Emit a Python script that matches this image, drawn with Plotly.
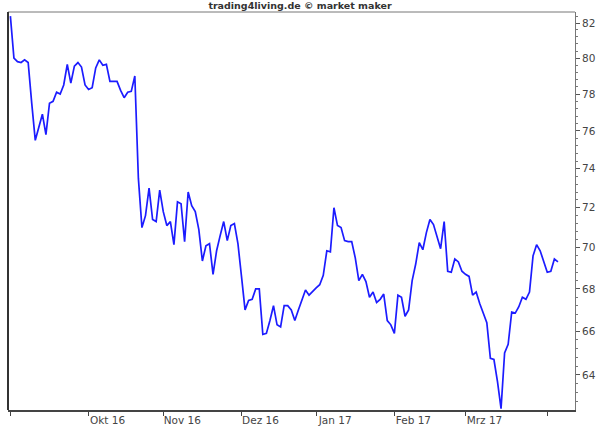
import math
import plotly.graph_objects as go

# Closing prices, one per trading day from 1 Sep 2016 (index 0)
values = [
    82.4, 80.0, 79.8, 79.75, 79.9, 79.75, 77.5, 75.5, 76.2, 76.9,
    75.8, 77.5, 77.6, 78.1, 78.0, 78.5, 79.65, 78.6, 79.55, 79.75,
    79.5, 78.5, 78.25, 78.35, 79.45, 79.9, 79.6, 79.65, 78.7, 78.7,
    78.7, 78.2, 77.8, 78.1, 78.15, 79.0, 73.5, 71.0, 71.6, 73.0,
    71.4, 71.3, 72.9, 71.8, 71.1, 71.3, 70.15, 72.3, 72.2, 70.3,
    72.8, 72.1, 71.8, 70.9, 69.35, 70.1, 70.2, 68.7, 69.85, 70.6,
    71.3, 70.35, 71.1, 71.2, 70.2, 68.6, 67.0, 67.45, 67.5, 68.0,
    68.0, 65.85, 65.9, 66.5, 67.2, 66.3, 66.2, 67.2, 67.2, 67.0,
    66.5, 67.0, 67.5, 67.95, 67.7, 67.9, 68.05, 68.2, 68.65, 69.85,
    69.8, 72.0, 71.1, 71.0, 70.35, 70.3, 70.3, 69.5, 68.4, 68.7,
    68.35, 67.6, 67.85, 67.35, 67.5, 67.75, 66.5, 66.3, 65.9, 67.7,
    67.6, 66.7, 67.0, 68.4, 69.2, 70.25, 69.9, 70.75, 71.4, 71.15,
    70.55, 69.95, 71.3, 68.85, 68.8, 69.45, 69.3, 68.85, 68.7, 68.6,
    67.7, 67.85, 67.3, 66.85, 66.4, 64.75, 64.7, 63.7, 62.5, 65.0,
    65.4, 66.9, 66.85, 67.15, 67.6, 67.5, 67.85, 69.6, 70.15, 69.85,
    69.35, 68.8, 68.85, 69.45, 69.3,
]
days = list(range(len(values)))

# Month starts as trading-day indices
month_tick_idx = [0, 22, 43, 65, 86, 108, 128, 151]
month_tick_labels = ["", "Okt 16", "Nov 16", "Dez 16", "Jan 17", "Feb 17", "Mrz 17", ""]

price_ticks = [64, 66, 68, 70, 72, 74, 76, 78, 80, 82]
price_tick_labels = [str(v) for v in price_ticks]
minor_vals = [round(62.4 + 0.4 * k, 1) for k in range(52)]
minor_vals = [v for v in minor_vals if abs(v - round(v)) > 1e-6 or int(round(v)) % 2 == 1]

title_text = "trading4living.de © market maker"

fig = go.Figure(
    go.Scatter(
        x=days, y=values, mode="lines",
        line=dict(color="#1c1cff", width=1.7),
        hoverinfo="skip",
    )
)

fig.update_layout(
    template="none",
    width=600, height=428,
    margin=dict(l=8, r=25, t=12, b=18, autoexpand=False),
    paper_bgcolor="white", plot_bgcolor="white",
    showlegend=False,
    title=dict(
        text=title_text,
        font=dict(family="DejaVu Sans", size=9.5, color="#333333", weight="bold"),
        x=0.5, xref="container", xanchor="center",
        y=1 - 6 / 428, yref="container", yanchor="middle",
    ),
    xaxis=dict(
        range=[-0.67, 158.8], automargin=False,
        tickmode="array", tickvals=month_tick_idx, ticktext=month_tick_labels,
        ticks="outside", ticklen=4, tickcolor="#444444", tickwidth=1,
        ticklabelshift=19, ticklabelstandoff=-5,
        tickfont=dict(family="DejaVu Sans", size=10.5, color="#444444"),
        showgrid=False, zeroline=False,
        showline=True, linecolor="#444444", linewidth=2,
        fixedrange=True,
    ),
    yaxis=dict(
        type="log", side="right", automargin=False,
        range=[math.log10(62.44), math.log10(82.64)],
        tickmode="array", tickvals=price_ticks, ticktext=price_tick_labels,
        ticks="outside", ticklen=4, tickcolor="#555555", tickwidth=1,
        tickfont=dict(family="DejaVu Sans", size=10.5, color="#444444"),
        minor=dict(tickmode="array", tickvals=minor_vals, ticks="outside",
                   ticklen=2, tickcolor="#777777", tickwidth=1),
        showgrid=False, zeroline=False,
        showline=True, linecolor="#777777", linewidth=1,
        fixedrange=True,
    ),
    shapes=[
        dict(type="line", xref="paper", yref="paper", x0=0, x1=1, y0=1, y1=1,
             line=dict(color="#777777", width=1)),
        dict(type="line", xref="paper", yref="paper", x0=0, x1=0, y0=0, y1=1,
             line=dict(color="#333333", width=2)),
    ],
)

fig.write_html(
    "out.html",
    config={"displayModeBar": False, "staticPlot": True},
    post_script="document.body.style.margin='0px';document.body.style.overflow='hidden';",
)
